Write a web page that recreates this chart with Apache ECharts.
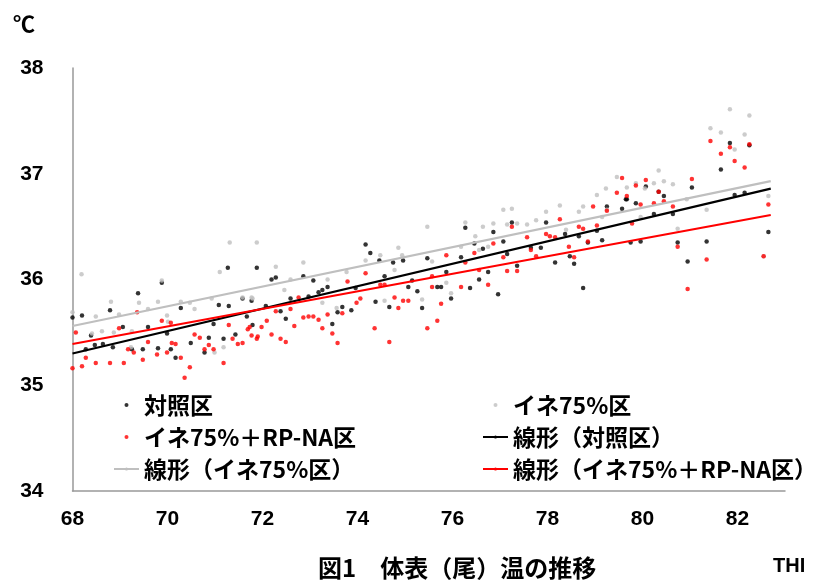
<!DOCTYPE html>
<html lang="ja">
<head>
<meta charset="utf-8">
<title>図1 体表(尾)温の推移</title>
<script src="https://cdn.jsdelivr.net/npm/echarts@6/dist/echarts.min.js"></script>
<style>
  html, body { margin: 0; padding: 0; background: #fff; }
  #chart { width: 816px; height: 586px; }
</style>
</head>
<body>
<div id="chart"></div>
<script>
'use strict';

// ── Data (THI, 体表温 ℃) ─────────────────────────────────────────────────────
const controlPts = [
  [68.0,35.64],[68.2,35.66],[68.79,35.71],[69.38,35.87],[69.88,35.97],[70.28,35.73],[71.08,35.76],
  [71.29,35.75],[71.58,35.82],[71.77,35.80],[71.67,35.65],[68.39,35.47],[68.47,35.38],[68.64,35.39],
  [68.85,35.36],[69.06,35.55],[69.25,35.34],[69.48,35.34],[69.59,35.55],[69.80,35.35],[69.99,35.49],
  [70.07,35.34],[70.17,35.26],[70.49,35.40],[70.78,35.31],[70.87,35.45],[70.97,35.58],[71.18,35.44],
  [71.43,35.48],[71.79,35.57],[68.28,35.34],[71.27,36.11],
  [71.88,36.11],[72.28,36.02],[72.19,36.00],[72.86,36.03],[73.07,35.99],[72.07,35.75],[72.38,35.70],
  [72.49,35.63],[72.59,35.82],[72.97,35.84],[73.18,35.88],[73.26,35.90],[73.37,35.93],[73.47,35.58],
  [73.68,35.74],[73.58,35.69],[73.87,35.71],[73.96,35.92],[74.17,36.33],[74.27,36.25],[74.46,36.18],
  [74.38,35.79],[74.57,36.03],[74.67,35.74],[74.75,36.16],[74.96,36.18],[75.15,35.99],[75.07,35.93],
  [75.26,35.89],[75.36,35.73],[75.47,36.20],[75.68,35.93],[75.76,35.93],[75.87,36.07],
  [79.25,36.69],[79.57,36.67],[79.67,36.76],[79.86,36.72],[79.04,36.46],[79.15,36.37],[78.66,36.41],
  [78.85,36.35],[78.37,36.43],[77.97,36.54],[77.86,36.30],[77.65,36.30],[77.25,36.54],[77.07,36.36],
  [76.86,36.45],[76.64,36.29],[76.27,36.49],[76.18,36.21],[76.46,36.34],[77.15,36.24],[77.36,36.13],
  [78.16,36.16],[78.47,36.22],[78.56,36.15],[76.75,36.07],[76.56,36.00],[76.37,35.92],[76.96,35.86],
  [78.75,35.92],[75.97,35.82],
  [81.84,37.29],[82.25,37.27],[81.65,37.04],[81.04,36.87],[80.07,36.88],[80.34,36.83],[80.45,36.79],
  [79.65,36.76],[80.24,36.62],[80.64,36.62],[81.94,36.80],[82.15,36.82],[79.75,36.35],[79.96,36.36],
  [80.74,36.35],[81.35,36.36],[80.95,36.17],[82.65,36.45]
];

const ine75Pts = [
  [68.19,36.05],[68.0,35.69],[68.49,35.65],[68.81,35.79],[68.98,35.67],[69.40,35.78],[69.59,35.72],
  [69.80,35.79],[69.88,35.99],[69.99,35.66],[70.28,35.79],[70.47,35.78],[70.57,35.72],[70.93,35.82],
  [71.10,36.07],[71.58,35.83],[71.77,35.83],[71.18,35.36],[69.23,35.36],[68.87,35.50],[68.41,35.49],
  [68.62,35.51],[69.25,35.51],[70.99,35.31],[70.01,35.60],[71.31,36.35],
  [71.88,36.35],[72.28,36.12],[72.86,36.16],[72.59,36.00],[73.37,36.00],[73.77,36.07],[73.26,35.78],
  [74.17,36.18],[74.48,36.23],[74.78,36.09],[74.86,36.30],[74.94,36.23],[75.47,36.50],[75.57,36.17],
  [74.57,35.80],[75.36,35.81],[72.46,35.90],[73.56,35.73],[71.79,35.82],
  [79.46,36.97],[79.67,36.87],[79.86,36.91],[79.04,36.80],[78.75,36.69],[78.66,36.64],[79.25,36.66],
  [79.15,36.59],[78.26,36.70],[77.97,36.64],[77.25,36.67],[77.07,36.66],[77.76,36.56],[77.57,36.52],
  [77.36,36.53],[77.15,36.52],[76.86,36.53],[76.64,36.50],[76.27,36.54],[76.48,36.41],[76.18,36.31],
  [76.75,36.31],[78.39,36.47],[75.97,35.87],[75.87,35.97],[76.56,36.28],
  [81.84,37.61],[82.25,37.55],[81.43,37.43],[81.65,37.39],[82.15,37.37],[81.94,37.23],[80.34,37.03],
  [80.05,36.86],[80.24,36.91],[80.45,36.93],[80.64,36.90],[79.23,36.86],[80.93,36.76],[81.35,36.66],
  [82.65,36.79],[80.74,36.48],[82.55,36.22],[79.96,36.59]
];

const ine75RpPts = [
  [68.07,35.50],[68.0,35.16],[68.2,35.18],[68.28,35.26],[68.49,35.21],[68.79,35.21],[68.98,35.54],
  [69.08,35.21],[69.17,35.34],[69.29,35.31],[69.48,35.24],[69.59,35.41],[69.78,35.29],[69.88,35.61],
  [70.07,35.59],[69.99,35.31],[70.09,35.40],[70.17,35.39],[70.28,35.26],[70.47,35.17],[70.36,35.07],
  [70.57,35.48],[70.68,35.45],[70.78,35.34],[70.87,35.38],[70.97,35.34],[71.18,35.21],[71.29,35.57],
  [71.37,35.44],[71.48,35.39],[71.58,35.40],[71.69,35.53],[71.77,35.47],[71.90,35.46],[69.36,35.69],
  [71.73,35.55],[71.88,35.44],[71.98,35.55],[72.09,35.61],[72.19,35.48],[72.28,35.70],[72.38,35.44],
  [72.49,35.41],[72.59,35.72],[72.67,35.56],[72.76,35.83],[72.86,35.64],[72.97,35.65],[73.07,35.65],
  [73.18,35.62],[73.26,35.54],[73.37,35.67],[73.47,35.49],[73.58,35.40],[73.68,35.68],[73.79,35.98],
  [73.98,35.78],[74.06,35.82],[74.17,36.06],[74.36,35.54],[74.48,35.95],[74.57,35.95],[74.67,35.41],
  [74.78,35.83],[74.86,35.73],[74.96,35.80],[75.07,35.80],[75.47,35.54],[75.57,35.93],[75.68,35.61],
  [75.76,35.77],[75.87,36.23],[75.57,36.03],
  [79.57,36.96],[79.46,36.82],[79.67,36.79],[78.96,36.69],[78.26,36.57],[77.25,36.50],[78.66,36.50],
  [78.75,36.48],[79.04,36.51],[77.57,36.40],[77.97,36.43],[78.05,36.41],[78.16,36.40],[76.86,36.34],
  [76.46,36.25],[76.27,36.16],[77.07,36.21],[77.65,36.28],[77.76,36.22],[78.45,36.31],[78.56,36.21],
  [78.85,36.36],[76.56,36.09],[77.15,36.08],[77.36,36.08],[76.18,35.93],[76.75,35.95],[79.78,36.53],
  [81.43,37.31],[81.65,37.19],[81.84,37.25],[81.94,37.12],[82.15,37.06],[82.25,37.28],[81.04,36.95],
  [79.86,36.89],[80.07,36.94],[79.96,36.71],[80.24,36.72],[80.34,36.83],[80.45,36.74],[80.64,36.69],
  [79.25,36.65],[80.74,36.31],[81.35,36.19],[80.95,35.91],[82.65,36.71],[82.55,36.22]
];

// 線形近似 (両端の読み取り値)
const trendControl = [[68, 35.30], [82.7, 36.86]];
const trendIne75   = [[68, 35.56], [82.7, 36.93]];
const trendIne75Rp = [[68, 35.39], [82.7, 36.61]];

const xTicks = [68, 70, 72, 74, 76, 78, 80, 82];

const names = {
  control: '対照区',
  ine:     'イネ75%区',
  ineRp:   'イネ75%＋RP-NA区',
  lControl:'線形（対照区）',
  lIne:    '線形（イネ75%区）',
  lIneRp:  '線形（イネ75%＋RP-NA区）',
};

const FONT_JP  = '"Noto Sans CJK JP", "Noto Sans", sans-serif';
const FONT_NUM = '"Liberation Sans", Arial, sans-serif';

// ── Chart ────────────────────────────────────────────────────────────────────
const chart = echarts.init(document.getElementById('chart'), null, { renderer: 'canvas' });

const legendText = { fontFamily: FONT_JP, fontSize: 23, fontWeight: 'bold', color: '#000', lineHeight: 26 };

function scatter(name, data, color) {
  return {
    type: 'scatter', name, data,
    symbol: 'circle', symbolSize: 4.5,
    itemStyle: { color },
    silent: true,
  };
}

function trend(name, data, color) {
  return {
    type: 'line', name, data,
    symbol: 'none', showSymbol: false,
    lineStyle: { color, width: 2.2 },
    itemStyle: { color },
    silent: true, z: 5,
  };
}

chart.setOption({
  animation: false,
  backgroundColor: '#fff',
  title: [
    { text: '図1　体表（尾）温の推移', left: 318, top: 556, padding: 0,
      textStyle: { fontFamily: FONT_JP, fontSize: 24, fontWeight: 'bold', color: '#000' } },
    { text: '℃', left: 13, top: 13, padding: 0,
      textStyle: { fontFamily: FONT_JP, fontSize: 22, fontWeight: 'bold', color: '#000' } },
    { text: 'THI', left: 773, top: 556, padding: 0,
      textStyle: { fontFamily: FONT_NUM, fontSize: 20, fontWeight: 'bold', color: '#000' } },
  ],
  legend: [
    { orient: 'vertical', left: 113, top: 392, padding: 0, itemWidth: 25, itemHeight: 4, itemGap: 6,
      textStyle: legendText, selectedMode: false,
      data: [{ name: names.control, icon: 'circle' }, { name: names.ineRp, icon: 'circle' }, names.lIne] },
    { orient: 'vertical', left: 482, top: 392, padding: 0, itemWidth: 25, itemHeight: 4, itemGap: 6,
      textStyle: legendText, selectedMode: false,
      data: [{ name: names.ine, icon: 'circle' }, names.lControl, names.lIneRp] },
  ],
  grid: { left: 72.5, right: 31, top: 68, bottom: 95, containLabel: false },
  xAxis: {
    type: 'value', min: 68, max: 83, interval: 2,
    axisLine: { show: true, lineStyle: { color: '#999', width: 1.5 } },
    axisTick: { show: false },
    splitLine: { show: false },
    axisLabel: {
      margin: 18, showMaxLabel: false,
      fontFamily: FONT_NUM, fontSize: 21, fontWeight: 'bold', color: '#000',
      formatter: v => xTicks.includes(v) ? String(v) : '',
    },
  },
  yAxis: {
    type: 'value', min: 34, max: 38, interval: 1,
    axisLine: { show: true, lineStyle: { color: '#999', width: 1.5 } },
    axisTick: { show: false },
    splitLine: { show: false },
    axisLabel: { margin: 29, fontFamily: FONT_NUM, fontSize: 21, fontWeight: 'bold', color: '#000' },
  },
  series: [
    scatter(names.control, controlPts, '#000000'),
    scatter(names.ine,     ine75Pts,   '#bfbfbf'),
    scatter(names.ineRp,   ine75RpPts, '#ff0000'),
    trend(names.lControl,  trendControl, '#000000'),
    trend(names.lIne,      trendIne75,   '#bfbfbf'),
    trend(names.lIneRp,    trendIne75Rp, '#ff0000'),
  ],
});
</script>
</body>
</html>
